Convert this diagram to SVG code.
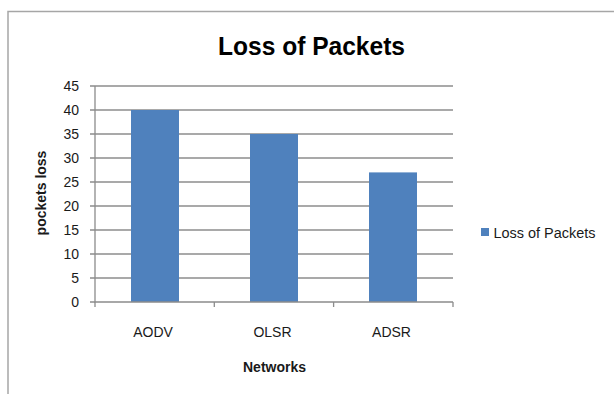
<svg xmlns="http://www.w3.org/2000/svg" width="614" height="394" viewBox="0 0 614 394">
  <style>
    .frame { fill: none; stroke: #a6a6a6; stroke-width: 1.5; }
    .grid { stroke: #8c8c8c; stroke-width: 1.3; fill: none; }
    .axis { stroke: #8c8c8c; stroke-width: 1.3; fill: none; }
    .bar { fill: #4f81bd; }
    .tick { font-family: "Liberation Sans", Arial, sans-serif; font-size: 14px; fill: #1a1a1a; }
    .title { font-family: "Liberation Sans", Arial, sans-serif; font-size: 25px; font-weight: bold; fill: #000; }
    .axtitle { font-family: "Liberation Sans", Arial, sans-serif; font-size: 14px; font-weight: bold; fill: #1a1a1a; }
  </style>
  <rect width="614" height="394" fill="#ffffff"/>

  <!-- chart area frame (top and left edges) -->
  <path class="frame" d="M8,394 V11.5 H614"/>

  <!-- title -->
  <text class="title" x="311.5" y="54.5" text-anchor="middle" textLength="187" lengthAdjust="spacingAndGlyphs">Loss of Packets</text>

  <!-- horizontal gridlines, 0..45 step 5 -->
  <g id="gridlines">
    <line class="grid" x1="95" y1="86" x2="453" y2="86"/>
    <line class="grid" x1="95" y1="110" x2="453" y2="110"/>
    <line class="grid" x1="95" y1="134" x2="453" y2="134"/>
    <line class="grid" x1="95" y1="158" x2="453" y2="158"/>
    <line class="grid" x1="95" y1="182" x2="453" y2="182"/>
    <line class="grid" x1="95" y1="206" x2="453" y2="206"/>
    <line class="grid" x1="95" y1="230" x2="453" y2="230"/>
    <line class="grid" x1="95" y1="254" x2="453" y2="254"/>
    <line class="grid" x1="95" y1="278" x2="453" y2="278"/>
  </g>

  <!-- bars -->
  <g id="bars">
    <rect id="bar-aodv" class="bar" x="131" y="110" width="48" height="192"/>
    <rect id="bar-olsr" class="bar" x="250" y="134" width="48" height="168"/>
    <rect id="bar-adsr" class="bar" x="369" y="172.4" width="48" height="129.6"/>
  </g>

  <!-- axes and tick marks -->
  <g id="axes">
    <path class="axis" d="M95,86 V302 H453"/>
    <path class="axis" d="M90,86 H95 M90,110 H95 M90,134 H95 M90,158 H95 M90,182 H95 M90,206 H95 M90,230 H95 M90,254 H95 M90,278 H95 M90,302 H95"/>
    <path class="axis" d="M95,302 V307 M214.3,302 V307 M333.6,302 V307 M453,302 V307"/>
  </g>

  <!-- value axis labels -->
  <g id="y-labels" class="tick" text-anchor="end">
    <text x="79" y="91">45</text>
    <text x="79" y="115">40</text>
    <text x="79" y="139">35</text>
    <text x="79" y="163">30</text>
    <text x="79" y="187">25</text>
    <text x="79" y="211">20</text>
    <text x="79" y="235">15</text>
    <text x="79" y="259">10</text>
    <text x="79" y="283">5</text>
    <text x="79" y="307">0</text>
  </g>

  <!-- category labels -->
  <g id="x-labels" class="tick" text-anchor="middle">
    <text x="153" y="337">AODV</text>
    <text x="272.5" y="337">OLSR</text>
    <text x="391.5" y="337">ADSR</text>
  </g>

  <!-- axis titles -->
  <text class="axtitle" x="274.5" y="372" text-anchor="middle" font-size="15">Networks</text>
  <text class="axtitle" transform="translate(46,193) rotate(-90)" text-anchor="middle">pockets loss</text>

  <!-- legend -->
  <g id="legend">
    <rect class="bar" x="481" y="228" width="8" height="8"/>
    <text class="tick" x="493.5" y="238" textLength="102" lengthAdjust="spacingAndGlyphs">Loss of Packets</text>
  </g>
</svg>
